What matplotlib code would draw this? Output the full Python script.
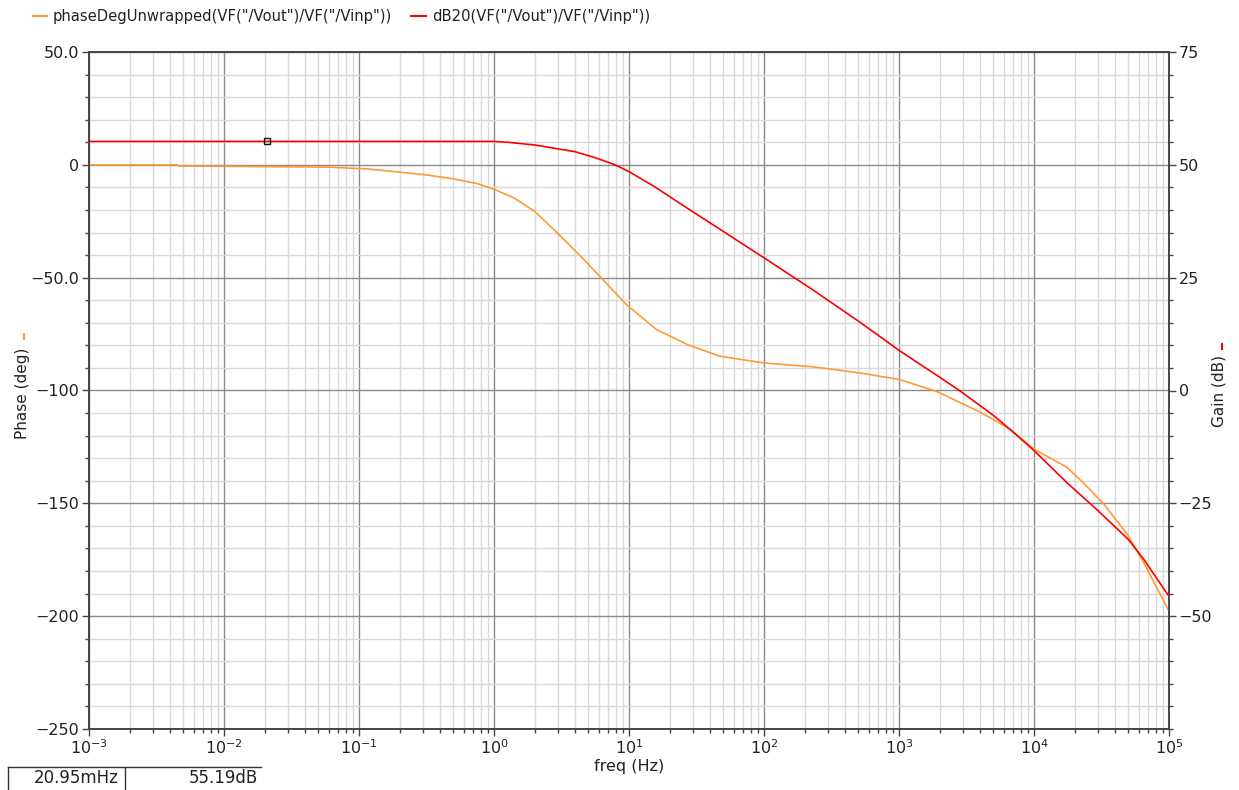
import matplotlib
matplotlib.use("Agg")
import matplotlib.pyplot as plt
from matplotlib.lines import Line2D
from matplotlib.ticker import LogLocator, FixedLocator, MultipleLocator, NullFormatter
import numpy as np

# ---------------- data ----------------
phase_freq = [1e-3, 4.5e-3, 4.6e-3, 0.058, 0.114, 0.17, 0.32, 0.5, 0.76, 1.0, 1.41, 2.0,
              2.95, 4.9, 6.2, 9.6, 16, 27, 47, 100, 230, 510, 1000, 1900, 4000, 6600,
              1e4, 17500, 23000, 33000, 50000, 65000, 1e5]
phase_deg = [0, 0, -0.5, -1.0, -1.8, -2.8, -4.5, -6.2, -8.4, -10.8, -14.7, -20.6,
             -30.2, -43.5, -50, -62, -73, -79.6, -84.8, -87.8, -89.5, -92.2, -95.1, -100.4,
             -109.6, -117, -126, -134, -140.7, -150.4, -164.4, -176.3, -197.8]

gain_freq = [1e-3, 1.0, 1.26, 2, 4, 5.6, 7.9, 10, 15.2, 27, 42, 100, 230, 510, 1000, 2000,
             2800, 5000, 7000, 1e4, 17500, 29000, 50000, 65000, 1e5]
gain_db = [55.19, 55.19, 55.0, 54.4, 52.9, 51.6, 50.0, 48.5, 45.3, 40.4, 36.7, 29.4, 22.3,
           15.2, 8.9, 2.95, 0, -5.5, -9.2, -13.3, -20.4, -26.3, -33, -37.4, -45.6]

freq_ticks = [1e-3, 1e-2, 1e-1, 1e0, 1e1, 1e2, 1e3, 1e4, 1e5]
freq_ticklabels = [r"$10^{-3}$", r"$10^{-2}$", r"$10^{-1}$", r"$10^{0}$", r"$10^{1}$",
                   r"$10^{2}$", r"$10^{3}$", r"$10^{4}$", r"$10^{5}$"]
phase_ticks = [50, 0, -50, -100, -150, -200, -250]
phase_ticklabels = ["50.0", "0", "\u221250.0", "\u2212100", "\u2212150", "\u2212200", "\u2212250"]
gain_ticks = [75, 50, 25, 0, -25, -50]
gain_ticklabels = ["75", "50", "25", "0", "\u221225", "\u221250"]

cursor_freq = 0.02095
cursor_gain = 55.19
cursor_labels = ["20.95mHz", "55.19dB"]

phase_name = 'phaseDegUnwrapped(VF("/Vout")/VF("/Vinp"))'
gain_name = 'dB20(VF("/Vout")/VF("/Vinp"))'

ORANGE = "#FF9A35"
RED = "#FF0000"
MAJ = "#8a8a8a"
MIN = "#d9d9d9"
TXT = "#222222"

W, H = 1239, 790
fig = plt.figure(figsize=(W / 100, H / 100), dpi=100)
fig.patch.set_facecolor("white")

def fx(x):
    return x / W

def fy(y):
    return 1 - y / H

ax = fig.add_axes([fx(89), fy(729), fx(1169) - fx(89), fy(52) - fy(729)])
ax2 = ax.twinx()

ax.set_xscale("log")
ax.set_xlim(1e-3, 1e5)
ax.set_ylim(-250, 50)
ax2.set_ylim(-75, 75)

ax.xaxis.set_major_locator(FixedLocator(freq_ticks))
ax.set_xticklabels(freq_ticklabels)
ax.xaxis.set_minor_locator(LogLocator(base=10, subs=np.arange(2, 10), numticks=100))
ax.xaxis.set_minor_formatter(NullFormatter())
ax.yaxis.set_major_locator(FixedLocator(phase_ticks))
ax.set_yticklabels(phase_ticklabels)
ax.yaxis.set_minor_locator(MultipleLocator(10))
ax2.yaxis.set_major_locator(FixedLocator(gain_ticks))
ax2.set_yticklabels(gain_ticklabels)
ax2.yaxis.set_minor_locator(MultipleLocator(5))

ax.grid(True, which="major", color=MAJ, lw=1.0)
ax.grid(True, which="minor", color=MIN, lw=1.0)
ax.set_axisbelow(True)

for a in (ax, ax2):
    for s in a.spines.values():
        s.set_color("#444444")
        s.set_linewidth(1.2)
    a.tick_params(which="both", colors="#444444", labelcolor=TXT, labelsize=11.5,
                  direction="out")
    a.tick_params(which="major", length=5, width=1, pad=2)
    a.tick_params(which="minor", length=3, width=1)

ax.plot(phase_freq, phase_deg, color=ORANGE, lw=1.2, zorder=3)
ax2.plot(gain_freq, gain_db, color=RED, lw=1.2, zorder=3)
ax2.plot([cursor_freq], [cursor_gain], marker="s", ms=5, mfc="none", mec="#111111",
         mew=1.0, zorder=5)

ax.set_xlabel("freq (Hz)", fontsize=11.5, color=TXT, labelpad=1)

# axis labels with colour marks
fig.text(fx(23), fy(393), "Phase (deg)", rotation=90, ha="center", va="center",
         fontsize=11, color=TXT)
fig.add_artist(Line2D([fx(24), fx(24)], [fy(334), fy(339)], color=ORANGE, lw=1.5))
fig.text(fx(1219), fy(391), "Gain (dB)", rotation=90, ha="center", va="center",
         fontsize=11, color=TXT)
fig.add_artist(Line2D([fx(1222), fx(1222)], [fy(344), fy(349)], color=RED, lw=1.5))

# legend at top
fig.add_artist(Line2D([fx(33), fx(47)], [fy(16), fy(16)], color=ORANGE, lw=1.5))
fig.text(fx(53), fy(16), phase_name, ha="left", va="center", fontsize=10.6, color=TXT)
fig.add_artist(Line2D([fx(411), fx(426)], [fy(16), fy(16)], color=RED, lw=1.5))
fig.text(fx(432), fy(16), gain_name, ha="left", va="center", fontsize=10.6, color=TXT)

# cursor readout boxes
fig.add_artist(Line2D([fx(8), fx(261)], [fy(767), fy(767)], color="#333333", lw=1.0))
fig.add_artist(Line2D([fx(8), fx(8)], [fy(767), fy(789)], color="#333333", lw=1.0))
fig.add_artist(Line2D([fx(125), fx(125)], [fy(767), fy(789)], color="#333333", lw=1.0))
fig.text(fx(119), fy(778), cursor_labels[0], ha="right", va="center", fontsize=12, color=TXT)
fig.text(fx(258), fy(778), cursor_labels[1], ha="right", va="center", fontsize=12, color=TXT)

fig.savefig("out.png", dpi=100)
